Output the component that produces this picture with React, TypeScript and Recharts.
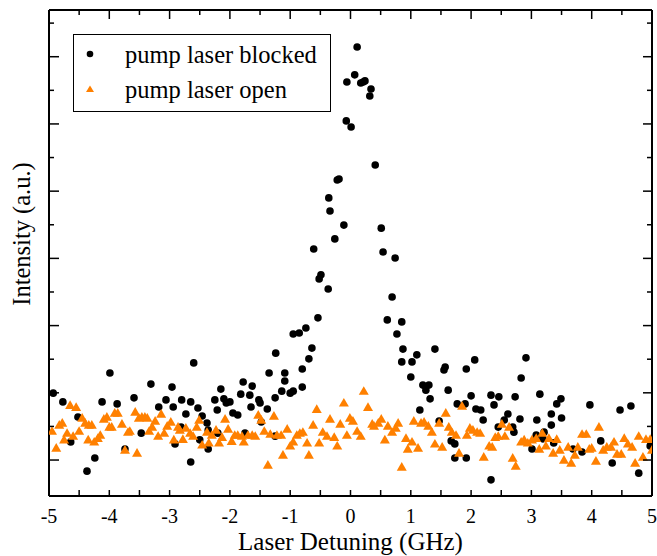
import React from 'react';
import { ScatterChart, Scatter, XAxis, YAxis, Legend } from 'recharts';

const FONT = '"Liberation Serif", "Times New Roman", serif';

const seriesNames = ['pump laser blocked', 'pump laser open'];
const seriesColors = ['#000000', '#ff8000'];
const xAxisTitle = 'Laser Detuning (GHz)';
const yAxisTitle = 'Intensity (a.u.)';

const xTicks = [-5, -4.5, -4, -3.5, -3, -2.5, -2, -1.5, -1, -0.5, 0, 0.5, 1, 1.5, 2, 2.5, 3, 3.5, 4, 4.5, 5];
const yTicks = [1, 2, 3, 4, 5, 6, 7, 8, 9, 10, 11, 12, 13, 14];
const xDomain = [-5, 5];
const yDomain = [-0.07, 14.39];

const blockedX = [
  -4.93, -4.77, -4.64, -4.52, -4.37, -4.24, -4.12, -3.99, -3.87, -3.74,
  -3.59, -3.47, -3.31, -3.18, -3.06, -2.96, -2.94, -2.91, -2.81, -2.80,
  -2.73, -2.65, -2.65, -2.60, -2.53, -2.50, -2.46, -2.38, -2.36, -2.36,
  -2.25, -2.21, -2.20, -2.15, -2.10, -2.06, -2.00, -1.95, -1.87, -1.82,
  -1.78, -1.75, -1.67, -1.65, -1.63, -1.52, -1.50, -1.48, -1.38, -1.35,
  -1.25, -1.25, -1.24, -1.14, -1.09, -1.09, -1.00, -0.95, -0.95, -0.85,
  -0.80, -0.80, -0.74, -0.69, -0.64, -0.61, -0.54, -0.52, -0.49, -0.37,
  -0.36, -0.34, -0.26, -0.22, -0.19, -0.11, -0.07, -0.06, 0.01, 0.07,
  0.11, 0.17, 0.21, 0.24, 0.34, 0.32, 0.41, 0.51, 0.54, 0.61,
  0.69, 0.74, 0.77, 0.85, 0.87, 0.85, 1.02, 1.10, 1.00, 1.20,
  1.25, 1.30, 1.32, 1.15, 1.40, 1.47, 1.55, 1.57, 1.62, 1.67,
  1.73, 1.73, 1.77, 1.90, 1.92, 1.92, 2.00, 2.06, 2.08, 2.16,
  2.20, 2.33, 2.33, 2.38, 2.45, 2.46, 2.55, 2.61, 2.69, 2.71,
  2.73, 2.81, 2.83, 2.91, 3.01, 3.09, 3.14, 3.08, 3.19, 3.21,
  3.33, 3.33, 3.37, 3.42, 3.49, 3.50, 3.69, 3.84, 3.97, 4.15,
  4.34, 4.47, 4.65, 4.78, 4.97,
];
const blockedY = [
  2.99, 2.73, 1.54, 2.28, 0.67, 1.06, 2.73, 3.59, 2.67, 1.33,
  2.85, 1.80, 3.26, 2.58, 2.79, 3.17, 2.58, 1.48, 1.98, 2.79,
  2.37, 2.73, 0.94, 3.89, 2.55, 1.60, 2.31, 2.10, 1.89, 1.33,
  2.79, 2.49, 1.80, 3.11, 2.82, 2.70, 2.73, 2.40, 2.34, 2.96,
  3.32, 1.80, 2.93, 2.58, 3.20, 2.79, 2.70, 2.13, 2.52, 3.59,
  2.85, 1.71, 4.18, 3.05, 3.59, 3.35, 2.99, 3.05, 4.75, 4.78,
  3.17, 3.71, 4.93, 4.01, 4.33, 7.28, 5.23, 6.39, 6.51, 6.09,
  8.80, 8.41, 7.58, 9.33, 9.36, 7.99, 11.09, 12.25, 10.91, 12.46,
  13.29, 12.22, 12.25, 12.28, 12.04, 11.83, 9.78, 7.90, 7.19, 5.17,
  5.85, 7.01, 4.75, 5.11, 4.30, 3.92, 3.92, 4.13, 3.47, 3.23,
  3.08, 3.23, 2.82, 2.49, 4.30, 2.16, 3.68, 3.77, 3.08, 1.57,
  1.48, 1.06, 2.67, 2.67, 3.71, 1.06, 2.91, 3.98, 2.52, 2.49,
  2.19, 2.93, 0.41, 2.64, 1.98, 2.88, 2.19, 2.37, 1.98, 1.83,
  2.88, 2.22, 3.44, 4.04, 1.33, 2.19, 2.96, 1.74, 1.63, 1.83,
  2.37, 2.04, 1.51, 2.67, 2.82, 2.25, 1.33, 1.24, 2.64, 1.57,
  0.91, 2.49, 2.61, 0.61, 1.42,
];

const openX = [
  -4.95, -4.88, -4.83, -4.78, -4.75, -4.70, -4.65, -4.60, -4.55, -4.50,
  -4.45, -4.40, -4.35, -4.34, -4.29, -4.25, -4.19, -4.15, -4.09, -4.04,
  -4.00, -3.96, -3.91, -3.86, -3.79, -3.74, -3.69, -3.66, -3.57, -3.54,
  -3.51, -3.46, -3.41, -3.37, -3.34, -3.29, -3.24, -3.19, -3.14, -3.09,
  -3.04, -2.98, -2.93, -2.86, -2.83, -2.78, -2.73, -2.66, -2.61, -2.55,
  -2.51, -2.46, -2.38, -2.35, -2.30, -2.23, -2.18, -2.13, -2.08, -2.03,
  -1.97, -1.92, -1.87, -1.80, -1.77, -1.70, -1.63, -1.58, -1.53, -1.48,
  -1.43, -1.37, -1.33, -1.27, -1.22, -1.15, -1.12, -1.05, -1.00, -0.95,
  -0.89, -0.84, -0.79, -0.72, -0.69, -0.62, -0.56, -0.52, -0.46, -0.39,
  -0.34, -0.27, -0.22, -0.17, -0.11, -0.06, -0.01, 0.04, 0.11, 0.17,
  0.22, 0.29, 0.36, 0.39, 0.46, 0.51, 0.57, 0.62, 0.69, 0.75,
  0.79, 0.85, 0.92, 0.95, 1.02, 1.05, 1.12, 1.17, 1.22, 1.29,
  1.35, 1.40, 1.47, 1.52, 1.58, 1.63, 1.68, 1.75, 1.80, 1.85,
  1.93, 1.98, 2.03, 2.10, 2.15, 2.21, 2.30, 2.35, 2.40, 2.45,
  2.51, 2.56, 2.63, 2.69, 2.74, 2.83, 2.88, 2.94, 3.01, 3.08,
  3.13, 3.18, 3.24, 3.29, 3.36, 3.42, 3.47, 3.54, 3.61, 3.66,
  3.72, 3.77, 3.84, 3.91, 3.96, 4.00, 4.07, 4.12, 4.19, 4.25,
  4.32, 4.37, 4.42, 4.49, 4.54, 4.60, 4.67, 4.72, 4.78, 4.85,
  4.90, 4.97, 5.00,
];
const openY = [
  1.86, 1.36, 2.04, 2.10, 1.60, 1.80, 2.63, 1.71, 2.57, 1.86,
  2.25, 2.10, 1.60, 2.04, 2.04, 1.54, 1.65, 1.74, 2.22, 2.28,
  1.98, 1.98, 2.40, 2.40, 2.07, 1.30, 1.83, 1.86, 2.43, 1.21,
  2.25, 2.28, 2.28, 2.25, 1.86, 1.98, 2.16, 1.71, 2.37, 1.80,
  2.01, 2.13, 1.60, 1.98, 1.89, 1.62, 1.95, 1.80, 1.71, 1.98,
  2.19, 1.45, 1.83, 1.51, 1.74, 1.89, 1.51, 1.68, 2.22, 1.92,
  1.56, 1.74, 1.74, 1.71, 1.54, 1.74, 1.74, 1.71, 2.34, 2.19,
  1.86, 0.85, 1.77, 2.31, 1.74, 1.74, 1.15, 1.92, 1.42, 1.54,
  1.74, 1.80, 1.83, 1.51, 1.15, 2.04, 2.51, 1.51, 1.83, 1.71,
  2.22, 1.68, 1.42, 2.07, 2.70, 1.74, 2.25, 2.16, 1.86, 1.71,
  3.05, 2.57, 2.07, 2.01, 2.10, 2.22, 1.60, 2.01, 1.83, 1.95,
  2.10, 0.79, 1.65, 1.33, 1.54, 2.16, 1.36, 2.10, 2.13, 2.01,
  1.83, 1.48, 2.10, 1.39, 2.40, 1.98, 1.83, 1.74, 1.21, 2.61,
  1.74, 1.95, 1.89, 1.83, 1.80, 1.09, 1.42, 1.39, 1.68, 1.71,
  2.07, 1.71, 1.98, 1.06, 0.82, 1.54, 1.60, 1.51, 1.60, 1.65,
  1.33, 1.80, 1.42, 1.65, 1.21, 1.62, 1.30, 1.00, 1.39, 0.91,
  1.15, 1.39, 1.77, 1.77, 1.33, 1.36, 0.97, 1.98, 1.30, 1.39,
  1.39, 1.54, 1.18, 1.18, 1.65, 1.48, 1.39, 0.91, 1.71, 1.09,
  1.62, 1.62, 1.30,
];

const blockedData = blockedX.map((x, i) => ({ x, y: blockedY[i] }));
const openData = openX.map((x, i) => ({ x, y: openY[i] }));

const isMajorX = (v: number) => Number.isInteger(v);
const isMajorY = (v: number) => v % 2 === 1;

const BottomTick = (p: any) => {
  const v = p.payload.value;
  return (
    <g>
      <line x1={p.x} y1={p.y} x2={p.x} y2={p.y - 6} stroke="#000" strokeWidth={1.5} />
      {isMajorX(v) && (
        <text x={p.x} y={p.y + 27} textAnchor="middle" fontSize={20} fontFamily={FONT} fill="#000">
          {String(v)}
        </text>
      )}
    </g>
  );
};

const TopTick = (p: any) => {
  const v = p.payload.value;
  const len = isMajorX(v) ? 9 : 5;
  return <line x1={p.x} y1={p.y} x2={p.x} y2={p.y + len} stroke="#000" strokeWidth={1.5} />;
};

const LeftTick = (p: any) => {
  const v = p.payload.value;
  const len = isMajorY(v) ? 10 : 5;
  return <line x1={p.x} y1={p.y} x2={p.x + len} y2={p.y} stroke="#000" strokeWidth={1.5} />;
};

const RightTick = (p: any) => {
  const v = p.payload.value;
  const len = isMajorY(v) ? 9 : 5;
  return <line x1={p.x} y1={p.y} x2={p.x - len} y2={p.y} stroke="#000" strokeWidth={1.5} />;
};

const XTitle = (p: any) => {
  const vb = p.viewBox || { x: 49, y: 496, width: 603, height: 60 };
  return (
    <text x={vb.x + vb.width / 2} y={vb.y + 54} textAnchor="middle" fontSize={25} fontFamily={FONT} fill="#000">
      {xAxisTitle}
    </text>
  );
};

const YTitle = (p: any) => {
  const vb = p.viewBox || { x: 0, y: 10, width: 49, height: 486 };
  const cx = vb.x + 30;
  const cy = vb.y + vb.height / 2 - 19;
  return (
    <text x={cx} y={cy} transform={`rotate(-90 ${cx} ${cy})`} textAnchor="middle" fontSize={24.5} fontFamily={FONT} fill="#000">
      {yAxisTitle}
    </text>
  );
};

const Dot = (p: any) => <circle cx={p.cx} cy={p.cy} r={3.8} fill={seriesColors[0]} />;
const Tri = (p: any) => (
  <polygon
    points={`${p.cx},${p.cy - 5} ${p.cx - 5},${p.cy + 3.7} ${p.cx + 5},${p.cy + 3.7}`}
    fill={seriesColors[1]}
  />
);

const LegendBox = (props: any) => {
  const items = props.payload || [];
  return (
    <svg width={258} height={78} style={{ display: 'block' }}>
      <rect x={0.5} y={0.5} width={257} height={77} fill="#fff" stroke="#000" strokeWidth={1} />
      {items.map((it: any, i: number) => {
        const cy = 20 + i * 35;
        const open = it.value === seriesNames[1];
        return (
          <g key={i}>
            {open ? (
              <polygon points={`17,${cy - 3.5} ${13},${cy + 3} ${21},${cy + 3}`} fill={seriesColors[1]} />
            ) : (
              <circle cx={17} cy={cy} r={3.3} fill={seriesColors[0]} />
            )}
            <text x={52} y={cy + 9} fontSize={24.5} fontFamily={FONT} fill="#000">
              {it.value}
            </text>
          </g>
        );
      })}
    </svg>
  );
};

export default function App() {
  return (
    <div style={{ position: 'absolute', left: 0, top: 0, width: 657, height: 556, background: '#fff' }}>
      <ScatterChart width={657} height={556} margin={{ top: 0, right: 0, bottom: 0, left: 0 }}>
        <XAxis
          xAxisId="b"
          dataKey="x"
          type="number"
          domain={xDomain}
          ticks={xTicks}
          interval={0}
          tickSize={0}
          tickMargin={0}
          height={60}
          axisLine={{ stroke: '#000', strokeWidth: 2 }}
          tickLine={false}
          tick={BottomTick}
          allowDataOverflow
          label={XTitle}
        />
        <XAxis
          xAxisId="t"
          orientation="top"
          dataKey="x"
          type="number"
          domain={xDomain}
          ticks={xTicks}
          interval={0}
          tickSize={0}
          tickMargin={0}
          height={10}
          axisLine={{ stroke: '#000', strokeWidth: 2 }}
          tickLine={false}
          tick={TopTick}
          allowDataOverflow
        />
        <YAxis
          yAxisId="l"
          dataKey="y"
          type="number"
          domain={yDomain}
          ticks={yTicks}
          interval={0}
          tickSize={0}
          tickMargin={0}
          width={49}
          axisLine={{ stroke: '#000', strokeWidth: 2 }}
          tickLine={false}
          tick={LeftTick}
          allowDataOverflow
          label={YTitle}
        />
        <YAxis
          yAxisId="r"
          orientation="right"
          dataKey="y"
          type="number"
          domain={yDomain}
          ticks={yTicks}
          interval={0}
          tickSize={0}
          tickMargin={0}
          width={5}
          axisLine={{ stroke: '#000', strokeWidth: 2 }}
          tickLine={false}
          tick={RightTick}
          allowDataOverflow
        />
        <Legend
          layout="vertical"
          align="center"
          verticalAlign="middle"
          wrapperStyle={{ left: 73, top: 34, width: 258, height: 78 }}
          content={LegendBox}
        />
        <Scatter
          name={seriesNames[0]}
          xAxisId="b"
          yAxisId="l"
          data={blockedData}
          fill={seriesColors[0]}
          shape={Dot}
          isAnimationActive={false}
        />
        <Scatter
          name={seriesNames[1]}
          xAxisId="b"
          yAxisId="l"
          data={openData}
          fill={seriesColors[1]}
          shape={Tri}
          isAnimationActive={false}
        />
        <Scatter xAxisId="t" yAxisId="r" data={[]} legendType="none" isAnimationActive={false} />
      </ScatterChart>
    </div>
  );
}
